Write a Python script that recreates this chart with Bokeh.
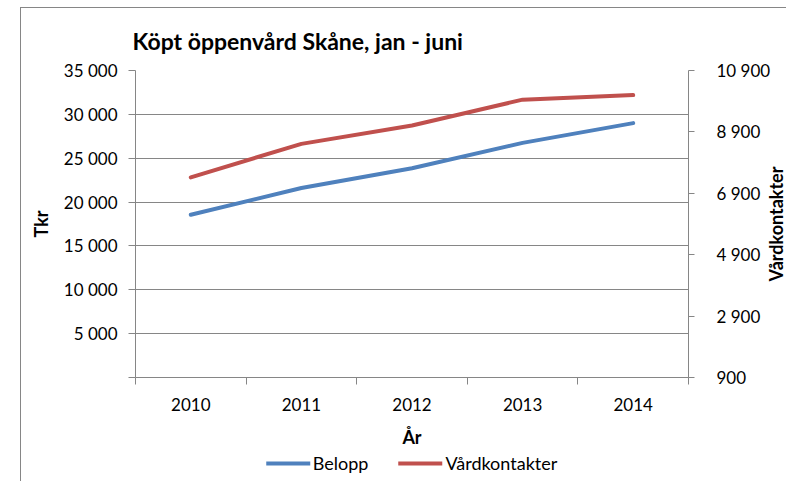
import math
from bokeh.plotting import figure
from bokeh.layouts import row, column
from bokeh.models import Range1d, LinearAxis, FixedTicker, Legend, LegendItem
from bokeh.embed import file_html
from bokeh.resources import INLINE

# ---- data ----
years = [2010, 2011, 2012, 2013, 2014]
belopp = [18550, 21600, 23850, 26750, 29000]          # Tkr (left axis)
vardkontakter = [7420, 8510, 9110, 9950, 10100]       # right axis

left_ticks = [0, 5000, 10000, 15000, 20000, 25000, 30000, 35000]
left_tick_labels = ["", "5 000", "10 000", "15 000", "20 000", "25 000", "30 000", "35 000"]
right_ticks = [900, 2900, 4900, 6900, 8900, 10900]
right_tick_labels = ["900", "2 900", "4 900", "6 900", "8 900", "10 900"]

title_text = "Köpt öppenvård Skåne, jan - juni"
x_title, y_title, y2_title = "År", "Tkr", "Vårdkontakter"
series_names = ["Belopp", "Vårdkontakter"]

FONT = "Lato"
GRAY = "#868686"
BLUE = "#4F81BD"
RED = "#C0504D"

p = figure(
    frame_width=553, frame_height=307,
    x_range=Range1d(years[0] - 0.5, years[-1] + 0.5),
    y_range=Range1d(left_ticks[0], left_ticks[-1]),
    output_backend="svg", toolbar_location=None,
    min_border_left=114, min_border_right=80,
    min_border_top=62, min_border_bottom=0,
    background_fill_color="white", border_fill_color="white",
)
p.outline_line_color = None
p.extra_y_ranges = {"right": Range1d(right_ticks[0], right_ticks[-1])}

# title
p.title.text = title_text
p.title.text_font = FONT
p.title.text_font_size = "23px"
p.title.text_font_style = "bold"
p.title.text_color = "black"
p.title.align = "left"
p.title.offset = -3
p.title.standoff = 32

# grid
p.xgrid.grid_line_color = None
p.ygrid.ticker = FixedTicker(ticks=left_ticks)
p.ygrid.grid_line_color = GRAY
p.ygrid.grid_line_width = 1

def style_axis(ax):
    ax.axis_line_color = GRAY
    ax.major_tick_line_color = GRAY
    ax.minor_tick_line_color = None
    ax.major_label_text_font = FONT
    ax.major_label_text_font_size = "17px"
    ax.major_label_text_color = "black"
    ax.axis_label_text_font = FONT
    ax.axis_label_text_font_size = "18px"
    ax.axis_label_text_font_style = "bold"
    ax.axis_label_text_color = "black"

# left axis
ya = p.yaxis[0]
style_axis(ya)
ya.ticker = FixedTicker(ticks=left_ticks)
ya.major_label_overrides = dict(zip(left_ticks, left_tick_labels))
ya.major_tick_out = 7
ya.major_tick_in = 0
ya.major_label_standoff = 11
ya.axis_label = y_title
ya.axis_label_standoff = 9

# bottom axis
xa = p.xaxis[0]
style_axis(xa)
boundaries = [y - 0.5 for y in years] + [years[-1] + 0.5]
xa.ticker = FixedTicker(ticks=years, minor_ticks=boundaries)
xa.major_tick_out = 0
xa.major_tick_in = 0
xa.major_tick_line_color = None
xa.minor_tick_line_color = GRAY
xa.minor_tick_out = 7
xa.minor_tick_in = 0
xa.major_label_standoff = 13
xa.axis_label = x_title
xa.axis_label_standoff = 12

# right axis (ticks + labels only; its title is drawn by the strip figure)
ra = LinearAxis(y_range_name="right", ticker=FixedTicker(ticks=right_ticks))
style_axis(ra)
ra.major_label_overrides = dict(zip(right_ticks, right_tick_labels))
ra.major_tick_out = 6
ra.major_tick_in = 0
ra.major_label_standoff = 22
p.add_layout(ra, "right")

# lines
r1 = p.line(years, belopp, line_color=BLUE, line_width=4,
            line_cap="round", line_join="round")
r2 = p.line(years, vardkontakter, y_range_name="right", line_color=RED,
            line_width=4, line_cap="round", line_join="round")

# narrow strip holding the secondary axis title (reads bottom-to-top, centred)
p2 = figure(
    frame_width=1, frame_height=307,
    x_range=Range1d(0, 1), y_range=p.extra_y_ranges["right"],
    output_backend="svg", toolbar_location=None,
    min_border_left=0, min_border_right=0,
    min_border_top=62, min_border_bottom=0,
    background_fill_alpha=0, border_fill_alpha=0,
)
p2.outline_line_color = None
p2.grid.visible = False
p2.xaxis.visible = False
p2.styles = {"margin-left": "-12px"}
ya2 = p2.yaxis[0]
style_axis(ya2)
ya2.ticker = FixedTicker(ticks=[])
ya2.axis_line_color = None
ya2.major_tick_out = 0
ya2.major_tick_in = 0
ya2.major_label_standoff = 0
ya2.axis_label = y2_title
ya2.axis_label_standoff = 0

# legend strip below the chart, frame aligned with the main plot area.
# Its proxy lines reuse the series but fall outside this strip's ranges,
# so only their legend swatches are visible.
p3 = figure(
    frame_width=553, frame_height=22,
    x_range=Range1d(0, 1), y_range=Range1d(0, 1),
    x_axis_location=None, y_axis_location=None,
    output_backend="svg", toolbar_location=None,
    min_border_left=114, min_border_right=0,
    min_border_top=0, min_border_bottom=8,
    background_fill_alpha=0, border_fill_alpha=0,
)
p3.outline_line_color = None
p3.grid.visible = False
p3.styles = {"margin-top": "2px"}
l1 = p3.line(years, belopp, line_color=BLUE, line_width=4, line_cap="round")
l2 = p3.line(years, vardkontakter, line_color=RED, line_width=4, line_cap="round")
legend = Legend(
    items=[LegendItem(label=series_names[0], renderers=[l1]),
           LegendItem(label=series_names[1], renderers=[l2])],
    orientation="horizontal", location="center",
    glyph_width=44, glyph_height=22, label_standoff=3, spacing=30,
    padding=0, margin=0, border_line_color=None, background_fill_alpha=0,
    label_text_font=FONT, label_text_font_size="18px", label_text_color="black",
)
p3.add_layout(legend, "center")

layout = column(row(p, p2, spacing=0), p3, spacing=0)
layout.styles = {"margin-left": "21px", "margin-top": "8px",
                 "box-shadow": "-1px -1px 0 0 #868686"}

open("out.html", "w").write(file_html(layout, INLINE))
